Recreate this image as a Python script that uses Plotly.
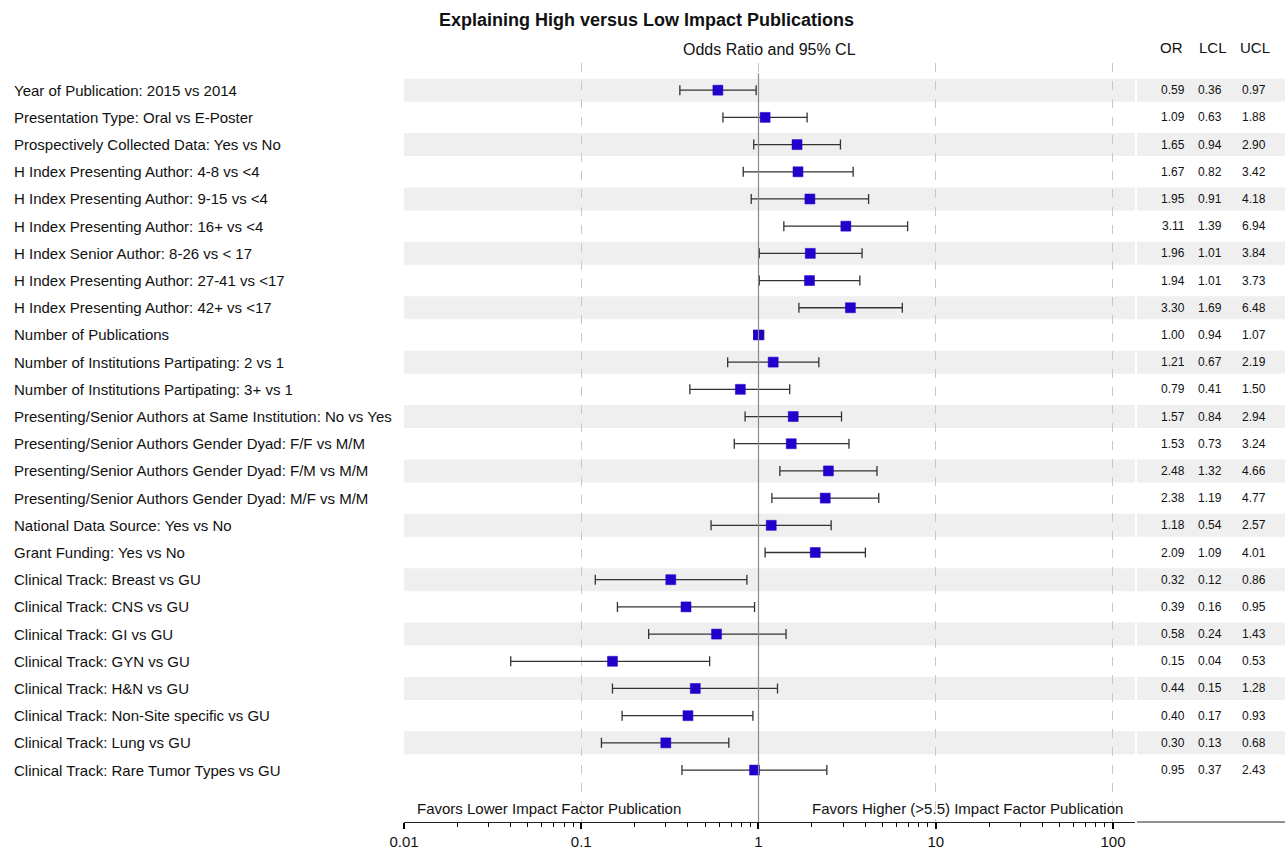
import plotly.graph_objects as go

labels = [
    "Year of Publication: 2015 vs 2014",
    "Presentation Type: Oral vs E-Poster",
    "Prospectively Collected Data: Yes vs No",
    "H Index Presenting Author: 4-8 vs <4",
    "H Index Presenting Author: 9-15 vs <4",
    "H Index Presenting Author: 16+ vs <4",
    "H Index Senior Author: 8-26 vs < 17",
    "H Index Presenting Author: 27-41 vs <17",
    "H Index Presenting Author: 42+ vs <17",
    "Number of Publications",
    "Number of Institutions Partipating: 2 vs 1",
    "Number of Institutions Partipating: 3+ vs 1",
    "Presenting/Senior Authors at Same Institution: No vs Yes",
    "Presenting/Senior Authors Gender Dyad: F/F vs M/M",
    "Presenting/Senior Authors Gender Dyad: F/M vs M/M",
    "Presenting/Senior Authors Gender Dyad: M/F vs M/M",
    "National Data Source: Yes vs No",
    "Grant Funding: Yes vs No",
    "Clinical Track: Breast vs GU",
    "Clinical Track: CNS vs GU",
    "Clinical Track: GI vs GU",
    "Clinical Track: GYN vs GU",
    "Clinical Track: H&N vs GU",
    "Clinical Track: Non-Site specific vs GU",
    "Clinical Track: Lung vs GU",
    "Clinical Track: Rare Tumor Types vs GU",
]
odds_ratio = [0.59, 1.09, 1.65, 1.67, 1.95, 3.11, 1.96, 1.94, 3.30, 1.00, 1.21, 0.79, 1.57,
              1.53, 2.48, 2.38, 1.18, 2.09, 0.32, 0.39, 0.58, 0.15, 0.44, 0.40, 0.30, 0.95]
lcl = [0.36, 0.63, 0.94, 0.82, 0.91, 1.39, 1.01, 1.01, 1.69, 0.94, 0.67, 0.41, 0.84,
       0.73, 1.32, 1.19, 0.54, 1.09, 0.12, 0.16, 0.24, 0.04, 0.15, 0.17, 0.13, 0.37]
ucl = [0.97, 1.88, 2.90, 3.42, 4.18, 6.94, 3.84, 3.73, 6.48, 1.07, 2.19, 1.50, 2.94,
       3.24, 4.66, 4.77, 2.57, 4.01, 0.86, 0.95, 1.43, 0.53, 1.28, 0.93, 0.68, 2.43]
tick_vals = [0.01, 0.1, 1, 10, 100]
tick_text = ["0.01", "0.1", "1", "10", "100"]
minor_tick_vals = [m * d for d in [0.01, 0.1, 1, 10] for m in range(2, 10)]

FONT = "Liberation Sans, Arial, sans-serif"
n = len(labels)
rows = list(range(1, n + 1))

MAIN_END = 0.8297
TABLE_START = 0.8320

fig = go.Figure()

fig.add_trace(go.Scatter(
    x=odds_ratio, y=rows, mode="markers",
    marker=dict(symbol="square", size=10, color="#2200cc", line=dict(width=0.5, color="#2200cc")),
    error_x=dict(type="data", symmetric=False,
                 array=[u - o for u, o in zip(ucl, odds_ratio)],
                 arrayminus=[o - l for o, l in zip(odds_ratio, lcl)],
                 color="#333333", thickness=1.3, width=5),
    showlegend=False, hoverinfo="skip", cliponaxis=False,
))

shapes = []
for i in rows:
    if i % 2 == 1:
        for x0, x1 in [(0, MAIN_END), (TABLE_START, 1.0)]:
            shapes.append(dict(type="rect", xref="paper", yref="y", x0=x0, x1=x1,
                               y0=i - 0.423, y1=i + 0.423, fillcolor="#efefef",
                               line=dict(width=0), layer="below"))
# reference line at OR = 1
shapes.append(dict(type="line", xref="x", yref="y", x0=1, x1=1, y0=0.375, y1=27.91,
                   line=dict(color="#8a8a8a", width=1.2), layer="above"))
# axis line continuation under table
shapes.append(dict(type="line", xref="paper", yref="paper", x0=TABLE_START, x1=1.0,
                   y0=0, y1=0, line=dict(color="#222222", width=1)))

annotations = []
for i, lab in zip(rows, labels):
    annotations.append(dict(xref="paper", yref="y", x=-0.44495, y=i, text=lab.replace("<", "&lt;"),
                            xanchor="left", yanchor="middle", showarrow=False,
                            font=dict(size=15, color="#111111", family=FONT)))
for col_x, vals in [(0.8888, odds_ratio), (0.9308, lcl), (0.9807, ucl)]:
    for i, v in zip(rows, vals):
        annotations.append(dict(xref="paper", yref="y", x=col_x, y=i, text=f"{v:.2f}",
                                xanchor="right", yanchor="middle", showarrow=False,
                                font=dict(size=12, color="#111111", family=FONT)))
for col_x, h in [(0.8717, "OR"), (0.9183, "LCL"), (0.9659, "UCL")]:
    annotations.append(dict(xref="paper", yref="paper", x=col_x, y=1.0198, text=h,
                            xanchor="center", yanchor="middle", showarrow=False,
                            font=dict(size=15, color="#111111", family=FONT)))
annotations.append(dict(xref="paper", yref="paper", x=0.2758, y=1.0567,
                        text="<b>Explaining High versus Low Impact Publications</b>",
                        xanchor="center", yanchor="middle", showarrow=False,
                        font=dict(size=18, color="#111111", family=FONT)))
annotations.append(dict(xref="paper", yref="paper", x=MAIN_END / 2, y=1.0184,
                        text="Odds Ratio and 95% CL",
                        xanchor="center", yanchor="middle", showarrow=False,
                        font=dict(size=16, color="#111111", family=FONT)))
annotations.append(dict(xref="paper", yref="y", x=0.01249, y=27.4,
                        text="Favors Lower Impact Factor Publication",
                        xanchor="left", yanchor="middle", showarrow=False,
                        font=dict(size=15, color="#111111", family=FONT)))
annotations.append(dict(xref="paper", yref="y", x=0.8184, y=27.4,
                        text="Favors Higher (&gt;5.5) Impact Factor Publication",
                        xanchor="right", yanchor="middle", showarrow=False,
                        font=dict(size=15, color="#111111", family=FONT)))

fig.update_layout(
    width=1285, height=849,
    margin=dict(l=404, r=0, t=63, b=27),
    paper_bgcolor="white", plot_bgcolor="white",
    shapes=shapes, annotations=annotations,
    xaxis=dict(type="log", domain=[0, MAIN_END], range=[-2, 2.124],
               tickmode="array", tickvals=tick_vals, ticktext=tick_text,
               ticks="outside", ticklen=6, tickcolor="#000000", tickwidth=1.5,
               showline=True, linecolor="#222222", linewidth=1,
               showgrid=True, gridcolor="#c8c8c8", gridwidth=1, griddash="dash",
               zeroline=False,
               minor=dict(tickmode="array", tickvals=minor_tick_vals, ticks="outside",
                          ticklen=4, tickcolor="#000000", tickwidth=1.2, showgrid=False),
               tickfont=dict(size=15, color="#111111", family=FONT)),
    yaxis=dict(range=[27.91, 0], showticklabels=False, showgrid=False, zeroline=False,
               ticks="", showline=False),
    font=dict(family=FONT),
)

fig.write_html("out.html", config={"displayModeBar": False},
               post_script="document.body.style.margin='0';document.body.style.padding='0';")
